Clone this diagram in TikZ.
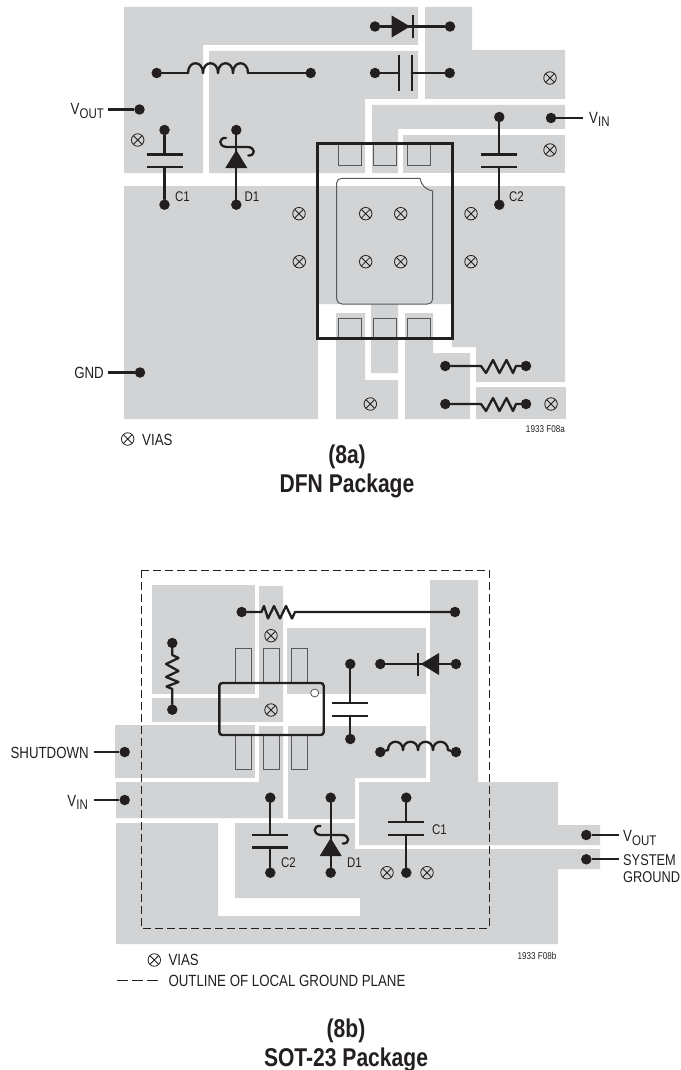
\documentclass[tikz,border=0pt]{standalone}
\usepackage{fontspec}
\setmainfont[FakeStretch=0.82]{Liberation Sans}
\definecolor{planegray}{HTML}{D1D3D4}
\definecolor{inkblack}{HTML}{231F20}
\definecolor{padgray}{HTML}{58595B}
\newcommand{\subtext}[1]{\raisebox{-3.5pt}{\fontsize{14}{14}\selectfont #1}}
\tikzset{
	plane/.style={fill=planegray, draw=none},
	wire/.style={draw=inkblack, line width=2.3pt, line cap=round, line join=round},
	plate/.style={draw=inkblack, line width=2.4pt},
	pad/.style={draw=padgray, line width=1pt},
	dot/.style={circle, fill=inkblack, minimum size=10.5pt, inner sep=0pt},
	lbl/.style={inner sep=0pt, text=inkblack, font=\fontsize{16.2}{18}\selectfont},
	sidelbl/.style={inner sep=0pt, text=inkblack, font=\fontsize{15.6}{18}\selectfont},
	partlbl/.style={inner sep=0pt, text=inkblack, font=\fontsize{14}{16}\selectfont},
	tinylbl/.style={inner sep=0pt, text=inkblack, font=\fontsize{9.9}{11}\selectfont},
	caption/.style={inner sep=0pt, text=inkblack, font=\fontsize{25.7}{29}\selectfont\bfseries},
	via/.style={circle, draw=inkblack, line width=0.8pt, minimum size=12.5pt, inner sep=0pt,
		path picture={\draw [inkblack, line width=0.8pt]
			(path picture bounding box.north west) -- (path picture bounding box.south east)
			(path picture bounding box.north east) -- (path picture bounding box.south west);}},
	schottky/.pic={
		\fill [inkblack] (0,0) -- (-11,18) -- (11,18) -- cycle;
		\draw [wire] (-10.3,-12) .. controls (-17,-13) and (-19,-4) .. (-10,-3) -- (11,-3)
			.. controls (19.5,-3) and (19.5,6) .. (12,5.5);
	},
}
\begin{document}
\begin{tikzpicture}[x=1pt,y=-1pt]
	\useasboundingbox (0,0) rectangle (680,1070);

	% 8a planes
	\fill [plane] (124,7) -- (418,7) -- (418,45) -- (203,45) -- (203,173) -- (124,173) -- cycle;
	\fill [plane] (209,51) -- (418,51) -- (418,99) -- (365,99) -- (365,173) -- (209,173) -- cycle;
	\fill [plane] (425,7) -- (472,7) -- (472,50) -- (565,50) -- (565,99) -- (425,99) -- cycle;
	\fill [plane] (372,105) -- (565,105) -- (565,129) -- (398,129) -- (398,173) -- (372,173) -- cycle;
	\fill [plane] (403,135) -- (565,135) -- (565,173) -- (403,173) -- cycle;
	\fill [plane] (124,186) -- (565,186) -- (565,382) -- (476,382) -- (476,347) -- (452,347) -- (452,304)
		-- (398,304) -- (398,373) -- (371,373) -- (371,304) -- (318,304) -- (318,419) -- (124,419) -- cycle;
	\fill [plane] (336,313) -- (365,313) -- (365,380) -- (398,380) -- (398,419) -- (336,419) -- cycle;
	\fill [plane] (405,313) -- (433,313) -- (433,353) -- (470,353) -- (470,419) -- (405,419) -- cycle;
	\fill [plane] (476,387) -- (566,387) -- (566,419) -- (476,419) -- cycle;

	% 8a package
	\foreach \x in {338.5,373,407.5} {
		\draw [pad] (\x,144) -- (\x,165) -- ({\x+23},165) -- ({\x+23},144);
		\draw [pad] (\x,338) -- (\x,318) -- ({\x+23},318) -- ({\x+23},338);
	}
	\draw [pad] (336.7,183) .. controls (336.7,180) and (339,178.3) .. (342,178.3) -- (420,178.3)
		.. controls (421,185) and (426,190) .. (432.7,191) -- (432.7,299)
		.. controls (432.7,302) and (430.5,304) .. (427.5,304) -- (342,304)
		.. controls (339,304) and (336.7,302) .. (336.7,299) -- cycle;
	\draw [draw=inkblack, line width=3pt] (317.5,143.5) rectangle (452.3,338.7);

	% 8b planes
	\fill [plane] (152,585) -- (255,585) -- (255,694) -- (152,694) -- cycle;
	\fill [plane] (259,586) -- (283,586) -- (283,722) -- (152,722) -- (152,698) -- (259,698) -- cycle;
	\fill [plane] (287,628) -- (426,628) -- (426,694) -- (287,694) -- cycle;
	\fill [plane] (430,580) -- (478,580) -- (478,782) -- (558,782) -- (558,825) -- (600,825) -- (600,845)
		-- (359,845) -- (359,782) -- (430,782) -- cycle;
	\fill [plane] (288,726) -- (426,726) -- (426,778) -- (355,778) -- (355,819) -- (288,819) -- cycle;
	\fill [plane] (115,725) -- (255,725) -- (255,778) -- (115,778) -- cycle;
	\fill [plane] (259,726) -- (283,726) -- (283,818) -- (116,818) -- (116,782) -- (259,782) -- cycle;
	\fill [plane] (116,823) -- (218,823) -- (218,916) -- (360,916) -- (360,898) -- (235,898) -- (235,823)
		-- (355,823) -- (355,849) -- (600,849) -- (600,869) -- (558,869) -- (558,944) -- (116,944) -- cycle;

	% 8b package
	\draw [draw=inkblack, line width=1pt, dash pattern=on 8pt off 4pt] (141.3,570.3) rectangle (489,928.3);
	\foreach \x in {235.3,263.3,291.3} {
		\draw [pad] (\x,683) -- (\x,648.7) -- ({\x+16},648.7) -- ({\x+16},683);
		\draw [pad] (\x,735) -- (\x,769) -- ({\x+16},769) -- ({\x+16},735);
	}
	\draw [draw=inkblack, line width=2.4pt, rounded corners=3pt] (219.3,683) rectangle (323.7,735);
	\node [circle, draw=padgray, line width=0.8pt, fill=white, minimum size=8pt, inner sep=0pt] (notch) at (314.7,693) {};

	% vias
	\foreach \n/\x/\y in {a/137.7/140, b/299/213.7, c/550/78, d/550/150, e/365.7/213.7, f/400.7/213.7, g/471/213.7,
		h/299.3/261.7, i/365.7/261.7, j/400.7/261.7, k/471/261.7, l/370.3/404, m/551/404, n/127.7/439,
		o/271/635.7, p/271/710, q/387/872.7, r/427/872.7, s/154.3/960}
		\node [via] (via\n) at (\x,\y) {};

	% terminals
	\foreach \n/\x/\y in {lfa/156.7/73, lfb/310.7/73, dfa/375/26.5, dfb/450/26.5, cfa/375/73, cfb/449.7/73,
		voutf/139.5/109.5, vinf/551/118, gndf/140/372.5, conea/164.5/130, coneb/164.5/204.7,
		donea/236.3/130, doneb/236.3/204.7, ctwoa/499.3/117, ctwob/499.3/204.7,
		rfa/445.3/366, rfb/526/366, rga/445.3/404, rgb/526/404,
		rsa/241.7/612, rsb/455/612, rva/172.3/643, rvb/172.3/709.7, csa/350.3/664, csb/350.3/739,
		dsa/380.3/664, dsb/456/664, lsa/380.3/752, lsb/456/752, sdn/124.7/752, vins/124.7/800,
		ctsa/270.3/797.7, ctsb/270.3/872.7, dsoa/330.7/797.7, dsob/330.7/872.7,
		cosa/406.3/797.7, cosb/406.3/872.7, vouts/586.3/835, gnds/586.3/859.3}
		\node [dot] (\n) at (\x,\y) {};

	% 8a inductor, diode, capacitor
	\draw [wire] (lfa) -- (188,73);
	\foreach \k in {0,...,3}
		\draw [wire] ({188+15*\k},73) .. controls ({188+15*\k},60) and ({203+15*\k},60) .. ({203+15*\k},73);
	\draw [wire] (248,73) -- (lfb);
	\draw [wire] (dfa) -- (dfb);
	\fill [inkblack] (391.7,15.5) -- (410,26.5) -- (391.7,37.5) -- cycle;
	\draw [plate] (412.7,15) -- (412.7,38);
	\coordinate (cfp) at (399,73);
	\coordinate (cfq) at (411.7,73);
	\draw [wire] (cfa) -- (cfp);
	\draw [wire] (cfq) -- (cfb);
	\draw [plate] (cfp) ++(0,-18) -- ++(0,36);
	\draw [plate] (cfq) ++(0,-18) -- ++(0,36);

	% 8a C1, D1, C2
	\coordinate (conep) at (164.5,154.5);
	\coordinate (coneq) at (164.5,167);
	\draw [wire] (conea) -- (conep);
	\draw [wire] (coneq) -- (coneb);
	\draw [plate] (conep) ++(-18,0) -- ++(36,0);
	\draw [plate] (coneq) ++(-18,0) -- ++(36,0);
	\draw [wire] (donea) -- (doneb);
	\pic at (236.3,150) {schottky};
	\coordinate (ctwop) at (499.3,154.5);
	\coordinate (ctwoq) at (499.3,167);
	\draw [wire] (ctwoa) -- (ctwop);
	\draw [wire] (ctwoq) -- (ctwob);
	\draw [plate] (ctwop) ++(-18,0) -- ++(36,0);
	\draw [plate] (ctwoq) ++(-18,0) -- ++(36,0);

	% 8a resistors
	\foreach \a/\b/\y in {rfa/rfb/366, rga/rgb/404}
		\draw [wire] (\a) -- (481,\y) -- (486,{\y+7}) -- (493,{\y-6}) -- (499.5,{\y+7}) -- (506.5,{\y-6})
			-- (513,{\y+7}) -- (516,\y) -- (\b);

	% 8a leaders
	\coordinate (voutfw) at (108,109.5);
	\coordinate (gndfw) at (108,372.5);
	\coordinate (vinfe) at (582.7,118);
	\draw [wire, line cap=butt] (voutfw) -- (voutf);
	\draw [wire, line cap=butt] (gndfw) -- (gndf);
	\draw [wire, line cap=butt] (vinf) -- (vinfe);

	% 8b top and left resistors
	\draw [wire] (rsa) -- (261.5,612) -- (264,606) -- (268,618.5) -- (274,606) -- (280,618.5) -- (286,606)
		-- (292,618.5) -- (295,612) -- (rsb);
	\draw [wire] (rva) -- (172.3,655) -- (178.5,658) -- (166,664) -- (178.5,671) -- (166,677) -- (178.5,682)
		-- (166.5,686.5) -- (172.3,689) -- (rvb);

	% 8b capacitor, diode, inductor
	\coordinate (csp) at (350.3,702.7);
	\coordinate (csq) at (350.3,715.7);
	\draw [wire] (csa) -- (csp);
	\draw [wire] (csq) -- (csb);
	\draw [plate] (csp) ++(-18,0) -- ++(36,0);
	\draw [plate] (csq) ++(-18,0) -- ++(36,0);
	\draw [wire] (dsa) -- (dsb);
	\fill [inkblack] (420.7,664) -- (439,653) -- (439,675) -- cycle;
	\draw [plate] (417.7,653) -- (417.7,675.5);
	\draw [wire] (lsa) -- (388,750);
	\foreach \k in {0,...,3}
		\draw [wire] ({388+15*\k},750) .. controls ({388+15*\k},739) and ({403+15*\k},739) .. ({403+15*\k},750);
	\draw [wire] (448,750) -- (lsb);

	% 8b C2, D1, C1
	\coordinate (ctsp) at (270.3,834.7);
	\coordinate (ctsq) at (270.3,847.3);
	\draw [wire] (ctsa) -- (ctsp);
	\draw [wire] (ctsq) -- (ctsb);
	\draw [plate] (ctsp) ++(-18,0) -- ++(36,0);
	\draw [plate] (ctsq) ++(-18,0) -- ++(36,0);
	\draw [wire] (dsoa) -- (dsob);
	\pic at (330.7,838) {schottky};
	\coordinate (cosp) at (406.3,821.7);
	\coordinate (cosq) at (406.3,834.7);
	\draw [wire] (cosa) -- (cosp);
	\draw [wire] (cosq) -- (cosb);
	\draw [plate] (cosp) ++(-18,0) -- ++(36,0);
	\draw [plate] (cosq) ++(-18,0) -- ++(36,0);

	% 8b leaders
	\coordinate (sdnw) at (94,752);
	\coordinate (vinsw) at (94,800);
	\coordinate (voutse) at (619,835);
	\coordinate (gndse) at (619,859.3);
	\draw [wire, line cap=butt] (sdnw) -- (sdn);
	\draw [wire, line cap=butt] (vinsw) -- (vins);
	\draw [wire, line cap=butt] (vouts) -- (voutse);
	\draw [wire, line cap=butt] (gnds) -- (gndse);
	\coordinate (dasha) at (117,980);
	\coordinate (dashb) at (158,980);
	\draw [draw=inkblack, line width=1pt, dash pattern=on 10.5pt off 4.5pt] (dasha) -- (dashb);

	% labels
	\node [lbl, anchor=base east] (lvoutf) at (104,115) {V\subtext{OUT}};
	\node [lbl, anchor=base west] (lvinf) at (589,123.5) {V\subtext{IN}};
	\node [lbl, anchor=base east] (lgndf) at (104,378) {GND};
	\node [partlbl, anchor=base west] (lconef) at (175,201.7) {C1};
	\node [partlbl, anchor=base west] (ldonef) at (244.5,201.7) {D1};
	\node [partlbl, anchor=base west] (lctwof) at (509,201.7) {C2};
	\node [lbl, anchor=base west] (lviaf) at (142,445) {VIAS};
	\node [tinylbl, anchor=base east] (lnumf) at (565,432.7) {1933 F08a};
	\node [caption, anchor=base] (capa) at (347,463) {(8a)};
	\node [caption, anchor=base] (capan) at (347,492) {DFN Package};

	\node [lbl, anchor=base east] (lsdn) at (89,758) {SHUTDOWN};
	\node [lbl, anchor=base east] (lvins) at (88,806) {V\subtext{IN}};
	\node [lbl, anchor=base west] (lvouts) at (623,841.5) {V\subtext{OUT}};
	\node [sidelbl, anchor=base west] (lsys) at (623,865) {SYSTEM};
	\node [sidelbl, anchor=base west] (lgnds) at (623,882.5) {GROUND};
	\node [partlbl, anchor=base west] (lctws) at (281,867.5) {C2};
	\node [partlbl, anchor=base west] (ldos) at (347,867.5) {D1};
	\node [partlbl, anchor=base west] (lcos) at (432,834.5) {C1};
	\node [lbl, anchor=base west] (lvias) at (168.3,965) {VIAS};
	\node [lbl, anchor=base west] (louts) at (168.3,986) {OUTLINE OF LOCAL GROUND PLANE};
	\node [tinylbl, anchor=base east] (lnums) at (556.7,959) {1933 F08b};
	\node [caption, anchor=base] (capb) at (346,1037) {(8b)};
	\node [caption, anchor=base] (capbn) at (346,1066) {SOT-23 Package};
\end{tikzpicture}
\end{document}
